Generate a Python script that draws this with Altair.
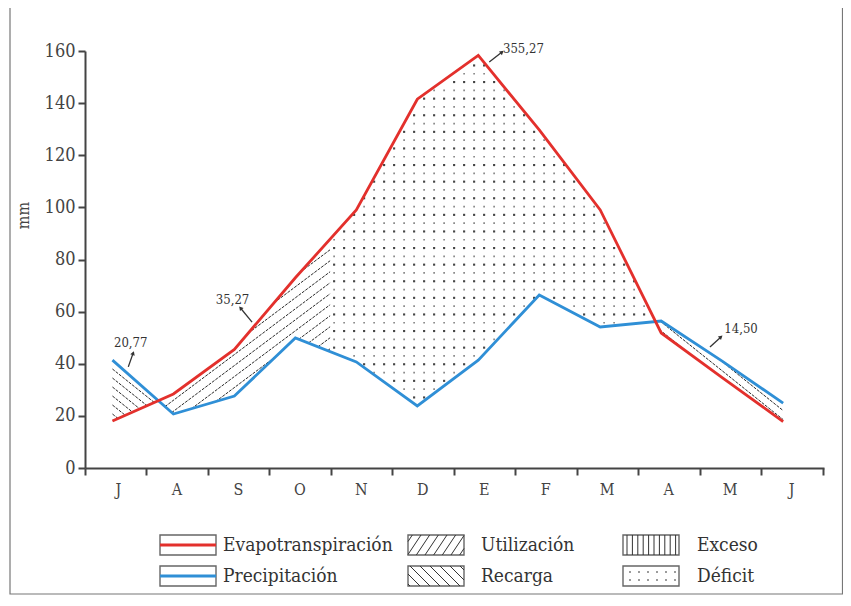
import json
import altair as alt
import numpy as np
import pandas as pd

# ---------------- data ----------------
months = ["J", "A", "S", "O", "N", "D", "E", "F", "M", "A", "M", "J"]
evapotranspiracion = [18.0, 28.4, 45.5, 73.0, 99.0, 141.5, 158.3, 129.7, 99.0, 51.8, 34.7, 17.8]
precipitacion = [41.4, 20.7, 27.6, 49.9, 40.7, 23.8, 41.4, 66.4, 54.1, 56.4, 41.0, 24.9]
y_ticks = [0, 20, 40, 60, 80, 100, 120, 140, 160]

ann_labels = ["20,77", "35,27", "355,27", "14,50"]
ann_text_x = [0.30, 1.97, 6.74, 10.31]
ann_text_y = [48.0, 64.5, 160.8, 53.3]
arrow_x0 = [0.26, 2.29, 6.18, 9.80]
arrow_y0 = [38.8, 56.0, 155.8, 46.4]
arrow_x1 = [0.34, 2.10, 6.39, 9.98]
arrow_y1 = [44.1, 61.4, 159.6, 50.3]
arrow_angle = [20, 320, 52, 48]

util_end = 3.57  # month position where "Utilización" gives way to "Déficit"

legend_names = ["Evapotranspiración", "Precipitación", "Utilización", "Recarga", "Exceso", "Déficit"]

# ---------------- layout ----------------
FONT = "DejaVu Serif Condensed, DejaVu Serif, serif"
RED = "#e3302c"
BLUE = "#2f8fd6"
INK = "#444444"
W, H = 739, 417
XMIN, XMAX = -0.45, 11.67
PX_X = W / (XMAX - XMIN)
PX_Y = H / 160.0
x_tick_vals = [round(k * 1.008 - 0.45, 3) for k in range(13)]

xs = np.arange(len(months))
E = lambda x: np.interp(x, xs, evapotranspiracion)
P = lambda x: np.interp(x, xs, precipitacion)


def crossings(a, b):
    d = np.array(a) - np.array(b)
    out = []
    for i in range(len(d) - 1):
        if d[i] * d[i + 1] < 0:
            out.append(i + d[i] / (d[i] - d[i + 1]))
    return out


cross1, cross2 = crossings(precipitacion, evapotranspiracion)


def hatch(x_lo, x_hi, lower, upper, slope, step, n=4000):
    xx = np.linspace(x_lo, x_hi, n)
    lo = lower(xx)
    hi = upper(xx)
    c_all = np.concatenate([lo - slope * xx, hi - slope * xx])
    rows = []
    for c in np.arange(np.floor(c_all.min() / step) * step, c_all.max() + step, step):
        yy = c + slope * xx
        inside = (yy >= lo) & (yy <= hi)
        edges = np.flatnonzero(np.diff(np.concatenate([[0], inside.astype(int), [0]])))
        for s, e in zip(edges[::2], edges[1::2]):
            if e - s < 3:
                continue
            rows.append(dict(x=xx[s], y=yy[s], x2=xx[e - 1], y2=yy[e - 1]))
    return rows


# hatch families (screen slope -> data slope)
util_m = 0.75 * PX_X / PX_Y
rec_m = -0.8 * PX_X / PX_Y
hatch_rows = []
hatch_rows += hatch(cross1, util_end, P, E, util_m, 11 / PX_Y)
hatch_rows += hatch(0, cross1, E, P, rec_m, 9 / PX_Y)
hatch_rows += hatch(cross2, len(months) - 1, E, P, rec_m, 9 / PX_Y)
hatch_df = pd.DataFrame(hatch_rows)

# deficit dots
dot_rows = []
dxd, dyd = 10 / PX_X, 8.3 / PX_Y
for j, yv in enumerate(np.arange(dyd * 0.5, 160, dyd)):
    for xv in np.arange(util_end + dxd * 0.4, cross2, dxd):
        if P(xv) + 0.8 < yv < E(xv) - 0.8:
            dot_rows.append(dict(x=xv, y=yv, k=j % 2))
dots_df = pd.DataFrame(dot_rows)
dots_a = dots_df[dots_df.k == 0]
dots_b = dots_df[dots_df.k == 1]

ev_df = pd.DataFrame({"x": xs, "y": evapotranspiracion})
pr_df = pd.DataFrame({"x": xs, "y": precipitacion})

ann_df = pd.DataFrame({"t": ann_labels, "x": ann_text_x, "y": ann_text_y})
arr_df = pd.DataFrame({"x": arrow_x0, "y": arrow_y0, "x2": arrow_x1, "y2": arrow_y1, "a": arrow_angle})

# ---------------- scales / encodings ----------------
xscale = alt.Scale(domain=[XMIN, XMAX], nice=False, zero=False)
yscale = alt.Scale(domain=[0, 160], nice=False)
month_expr = json.dumps(months) + "[round((datum.value + 0.45) / 1.008)] || ''"

x_axis = alt.Axis(values=x_tick_vals, labelExpr=month_expr, labelOffset=30, grid=False,
                  domainColor=INK, domainWidth=2, tickColor=INK, tickWidth=2, tickSize=7,
                  labelFont=FONT, labelFontSize=16, labelColor=INK, labelPadding=6)
y_axis = alt.Axis(values=y_ticks, grid=False, domainColor=INK, domainWidth=2, tickColor=INK,
                  tickWidth=2, tickSize=7, labelFont=FONT, labelFontSize=18, labelColor=INK,
                  labelPadding=3, title="mm", titleFont=FONT, titleFontSize=16,
                  titleFontWeight="normal", titleColor=INK, titleX=-54, titleY=164)

X = lambda f="x": alt.X(f"{f}:Q", scale=xscale, axis=x_axis, title=None)
Y = lambda f="y": alt.Y(f"{f}:Q", scale=yscale, axis=y_axis)

hatch_layer = alt.Chart(hatch_df).mark_rule(color="#2a2a2a", strokeWidth=1.0, strokeDash=[3, 1.2]).encode(
    x=X(), y=Y(), x2="x2:Q", y2="y2:Q")

dots_layer_a = alt.Chart(dots_a).mark_square(size=4.5, color="#444444", opacity=1).encode(x=X(), y=Y())
dots_layer_b = alt.Chart(dots_b).mark_square(size=3, color="#8a8a8a", opacity=1).encode(x=X(), y=Y())

pr_layer = alt.Chart(pr_df).mark_line(strokeWidth=2.8, color=BLUE).encode(x=X(), y=Y())
ev_layer = alt.Chart(ev_df).mark_line(strokeWidth=2.8, color=RED).encode(x=X(), y=Y())

arrow_line = alt.Chart(arr_df).mark_rule(color="#333333", strokeWidth=1.3).encode(
    x=X(), y=Y(), x2="x2:Q", y2="y2:Q")
arrow_head = alt.Chart(arr_df).mark_point(shape="triangle-up", filled=True, color="#333333",
                                          size=22, opacity=1).encode(
    x=X("x2"), y=Y("y2"), angle=alt.Angle("a:Q", scale=None))
ann_layer = alt.Chart(ann_df).mark_text(font=FONT, fontSize=13, color="#333333").encode(
    x=X(), y=Y(), text="t:N")

# ---------------- legend (pixel geometry under the plot) ----------------
box_left = [75, 75, 323, 323, 538, 538]
box_top = [484, 515, 484, 515, 484, 515]
BW, BH = 56, 20
text_left = [138, 138, 396, 396, 612, 612]

leg_box = pd.DataFrame({"x": box_left, "x2": [b + BW for b in box_left],
                        "y": box_top, "y2": [t + BH for t in box_top]})
leg_text = pd.DataFrame({"x": text_left, "y": [t + BH / 2 for t in box_top], "t": legend_names})
leg_line_ev = pd.DataFrame({"x": [box_left[0]], "x2": [box_left[0] + BW], "y": [box_top[0] + BH / 2]})
leg_line_pr = pd.DataFrame({"x": [box_left[1]], "x2": [box_left[1] + BW], "y": [box_top[1] + BH / 2]})

leg_hatch_rows = []
bx, by = box_left[2], box_top[2]
leg_hatch_rows += hatch(bx, bx + BW, lambda x: np.full_like(x, by), lambda x: np.full_like(x, by + BH), -1.5, 13)
bx, by = box_left[3], box_top[3]
leg_hatch_rows += hatch(bx, bx + BW, lambda x: np.full_like(x, by), lambda x: np.full_like(x, by + BH), 1.0, 10)
bx, by = box_left[4], box_top[4]
for xv in np.arange(bx + 4, bx + BW - 2, 5.4):
    leg_hatch_rows.append(dict(x=xv, y=by, x2=xv, y2=by + BH))
leg_hatch = pd.DataFrame(leg_hatch_rows)

bx, by = box_left[5], box_top[5]
leg_dots = pd.DataFrame([dict(x=xv, y=yv) for yv in (by + 6, by + 14) for xv in np.arange(bx + 7, bx + BW - 3, 9)])

PXX = lambda f="x": alt.X(f"{f}:Q", scale=None, axis=None)
PXY = lambda f="y": alt.Y(f"{f}:Q", scale=None, axis=None)

leg_box_layer = alt.Chart(leg_box).mark_rect(fill="white", stroke="#666666", strokeWidth=1.4).encode(
    x=PXX(), x2="x2:Q", y=PXY(), y2="y2:Q")
leg_hatch_layer = alt.Chart(leg_hatch).mark_rule(color="#333333", strokeWidth=1).encode(
    x=PXX(), x2="x2:Q", y=PXY(), y2="y2:Q")
leg_ev_layer = alt.Chart(leg_line_ev).mark_rule(strokeWidth=3, color=RED).encode(x=PXX(), x2="x2:Q", y=PXY())
leg_pr_layer = alt.Chart(leg_line_pr).mark_rule(strokeWidth=3, color=BLUE).encode(x=PXX(), x2="x2:Q", y=PXY())
leg_dots_layer = alt.Chart(leg_dots).mark_square(size=3, color="#666666", opacity=1).encode(x=PXX(), y=PXY())
leg_text_layer = alt.Chart(leg_text).mark_text(font=FONT, fontSize=19, color="#333333", align="left",
                                               baseline="middle").encode(x=PXX(), y=PXY(), text="t:N")

frame = alt.Chart(pd.DataFrame({"a": [0]})).mark_rect(fillOpacity=0, stroke="#777777", strokeWidth=1.2).encode(
    x=alt.value(-75), x2=alt.value(757.5), y=alt.value(-44), y2=alt.value(543))

chart = alt.layer(
    frame, hatch_layer, dots_layer_a, dots_layer_b, pr_layer, ev_layer, arrow_line, arrow_head, ann_layer,
    leg_box_layer, leg_hatch_layer, leg_ev_layer, leg_pr_layer, leg_dots_layer, leg_text_layer,
).properties(
    width=W, height=H,
    autosize=alt.AutoSizeParams(type="none"),
    padding={"left": 77, "top": 43, "right": 19, "bottom": 128},
    background="white",
).configure_view(stroke=None)

chart.save("out.html", embed_options={"renderer": "svg", "actions": False})
